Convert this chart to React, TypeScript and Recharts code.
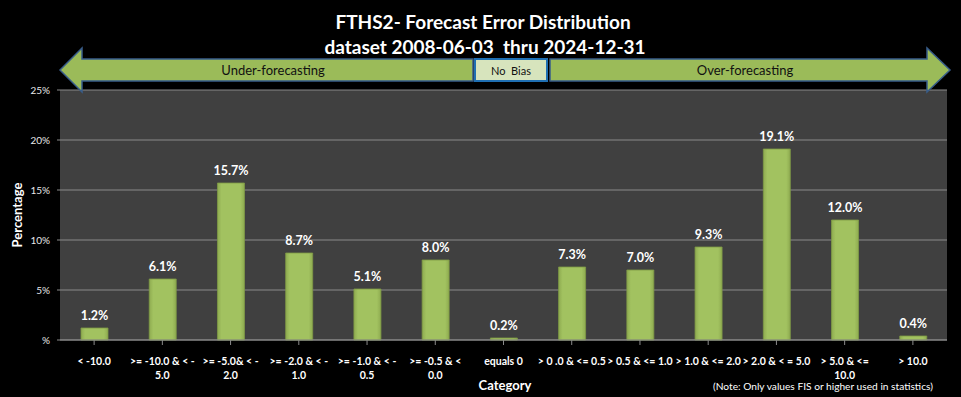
import React from 'react';
import {BarChart, Bar, XAxis, YAxis, CartesianGrid, LabelList} from 'recharts';

const categories = [
    '< -10.0',
    '>= -10.0 & < -\n5.0',
    '>= -5.0& < -\n2.0',
    '>= -2.0 & < -\n1.0',
    '>= -1.0 & < -\n0.5',
    '>= -0.5 & <\n0.0',
    'equals 0',
    '> 0 .0 & <= 0.5',
    '> 0.5 & <= 1.0',
    '> 1.0 & <= 2.0',
    '> 2.0 & < = 5.0',
    '> 5.0 & <=\n10.0',
    '> 10.0',
];
const percentages = [1.2, 6.1, 15.7, 8.7, 5.1, 8.0, 0.2, 7.3, 7.0, 9.3, 19.1, 12.0, 0.4];
const yTicks = [0, 5, 10, 15, 20, 25];

const data = categories.map((name, i) => ({name, value: percentages[i]}));

const FONT = 'Lato, "Open Sans", sans-serif';
const pre = {whiteSpace: 'pre'} as React.CSSProperties;

const CategoryTick = (props: any) => {
    const {x, y, payload} = props;
    const lines = String(payload.value).split('\n');
    return (
        <g transform={`translate(${x},${y})`}>
            {lines.map((line: string, i: number) => (
                <text key={i} x={0} y={18 + i * 13.5} textAnchor="middle" fill="#ffffff"
                      fontSize={10.5} fontWeight="bold" fontFamily={FONT}>
                    {line}
                </text>
            ))}
        </g>
    );
};

const Overlay = () => (
    <svg width={961} height={397} style={{position: 'absolute', left: 0, top: 0, pointerEvents: 'none'}}>
        <text x={483} y={29} textAnchor="middle" fill="#fff" fontSize={19} fontWeight="bold" fontFamily={FONT}>
            FTHS2- Forecast Error Distribution
        </text>
        <text x={485} y={54} textAnchor="middle" fill="#fff" fontSize={19} fontWeight="bold" fontFamily={FONT}
              style={pre}>
            {'dataset 2008-06-03  thru 2024-12-31'}
        </text>
        <polygon points="60,70 82,48 82,59 473,59 473,81 82,81 82,92"
                 fill="#9bbb59" stroke="#385d8a" strokeWidth={1.5}/>
        <text x={273} y={75} textAnchor="middle" fill="#111" fontSize={13} fontFamily={FONT}>Under-forecasting</text>
        <rect x={475} y={59} width={72} height={22} fill="#d7e4bd" stroke="#1f6fb2" strokeWidth={2}/>
        <text x={511} y={75} textAnchor="middle" fill="#111" fontSize={11} fontFamily={FONT} style={pre}>
            {'No  Bias'}
        </text>
        <polygon points="550,59 927,59 927,48 950,70 927,92 927,81 550,81"
                 fill="#9bbb59" stroke="#385d8a" strokeWidth={1.5}/>
        <text x={745} y={75} textAnchor="middle" fill="#111" fontSize={13} fontFamily={FONT}>Over-forecasting</text>
        <text x={0} y={0} transform="translate(22,215) rotate(-90)" textAnchor="middle" fill="#fff"
              fontSize={13} fontWeight="bold" fontFamily={FONT}>Percentage</text>
        <text x={505} y={390} textAnchor="middle" fill="#fff" fontSize={13} fontWeight="bold"
              fontFamily={FONT}>Category</text>
        <text x={713} y={390} fill="#fff" fontSize={10.2} fontFamily={FONT}>
            (Note: Only values FIS or higher used in statistics)
        </text>
    </svg>
);

export default function App() {
    return (
        <div style={{position: 'fixed', left: 0, top: 0, width: 961, height: 397, background: '#000',
            fontFamily: FONT}}>
            <BarChart width={961} height={397} data={data} barCategoryGap="30%"
                      margin={{top: 90, right: 14, bottom: 0, left: 0}}>
                <defs>
                    <linearGradient id="barFill" x1="0" y1="0" x2="1" y2="0">
                        <stop offset="0%" stopColor="#8eab50"/>
                        <stop offset="15%" stopColor="#a2c260"/>
                        <stop offset="85%" stopColor="#a2c260"/>
                        <stop offset="100%" stopColor="#8eab50"/>
                    </linearGradient>
                </defs>
                <CartesianGrid vertical={false} fill="#404040" stroke="#8a8a8a" strokeWidth={1.2}/>
                <XAxis dataKey="name" height={57} interval={0} tick={<CategoryTick/>}
                       axisLine={{stroke: '#8a8a8a'}} tickLine={{stroke: '#8a8a8a'}} tickSize={5}/>
                <YAxis width={60} domain={[0, 25]} ticks={yTicks}
                       tickFormatter={(v: number) => (v === 0 ? '%' : `${v}%`)}
                       tick={{fill: '#e8e8e8', fontSize: 10, fontFamily: FONT}}
                       axisLine={false} tickLine={{stroke: '#8a8a8a'}} tickSize={3} tickMargin={7}/>
                <Bar dataKey="value" fill="url(#barFill)" stroke="#7f9a45" strokeWidth={0.8}
                     barSize={27} isAnimationActive={false}>
                    <LabelList dataKey="value" position="top" offset={8}
                               formatter={(v: any) => `${Number(v).toFixed(1)}%`}
                               style={{fill: '#fff', fontSize: 12.5, fontWeight: 'bold', fontFamily: FONT}}/>
                </Bar>
            </BarChart>
            <Overlay/>
        </div>
    );
}
